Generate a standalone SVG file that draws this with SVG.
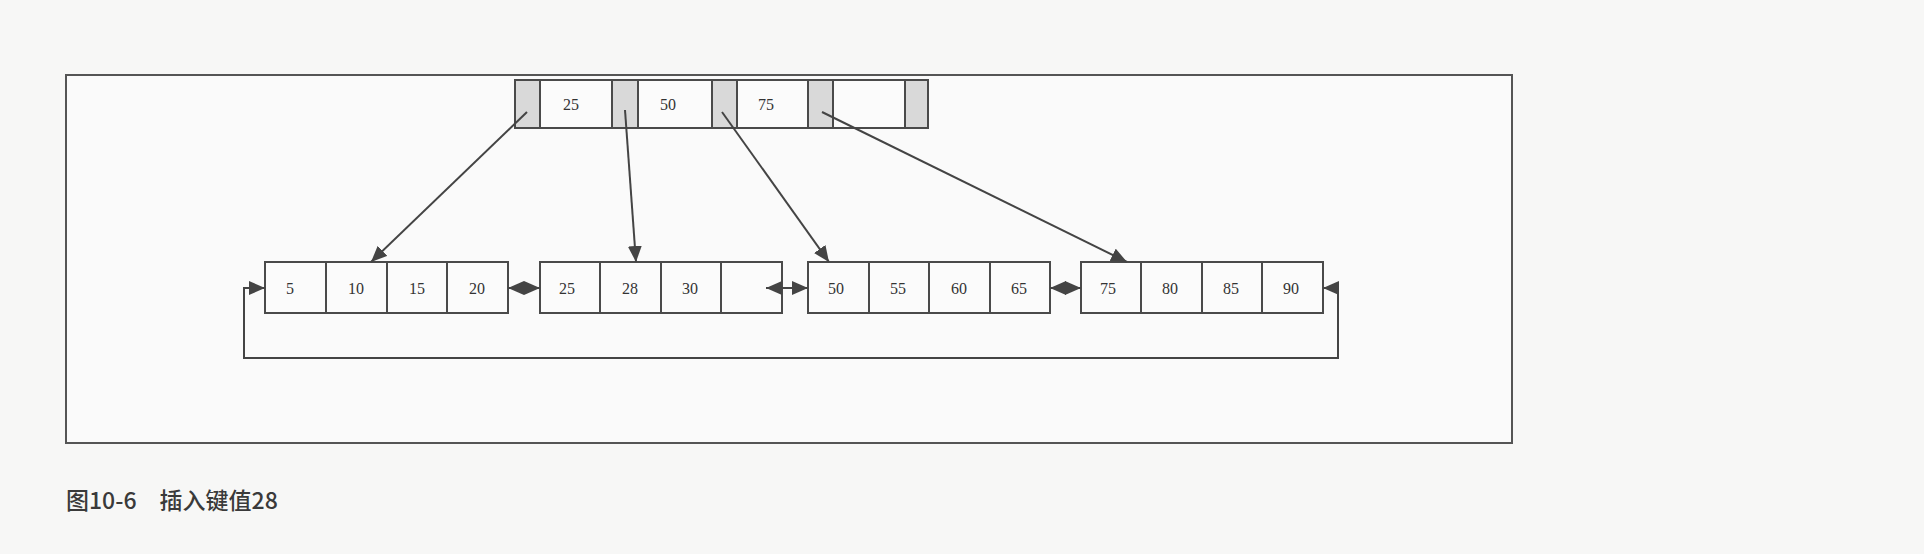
<svg xmlns="http://www.w3.org/2000/svg" width="1924" height="554" viewBox="0 0 1924 554">
<style>
.cell{fill:#fbfbfb;stroke:#4a4a4a;stroke-width:2}
.ptr{fill:#d9d9d9;stroke:#4a4a4a;stroke-width:2}
.num{font-family:"Liberation Serif",serif;font-size:16px;fill:#333;text-anchor:middle}
.edge{stroke:#444;stroke-width:2;fill:none}
.cap{font-family:"Noto Sans CJK SC","Noto Sans",sans-serif;font-size:23px;font-weight:500;fill:#3a3a3a}
</style>
<defs>
<marker id="big" viewBox="0 0 16 14" refX="16" refY="7" markerWidth="16" markerHeight="14" markerUnits="userSpaceOnUse" orient="auto">
<path d="M0,0 L16,7 L0,14 z" fill="#444"/>
</marker>
<marker id="bigs" viewBox="0 0 16 14" refX="16" refY="7" markerWidth="16" markerHeight="14" markerUnits="userSpaceOnUse" orient="auto-start-reverse">
<path d="M0,0 L16,7 L0,14 z" fill="#444"/>
</marker>
</defs>
<rect x="0" y="0" width="1924" height="554" fill="#f7f7f6"/>
<rect id="frame" x="66" y="75" width="1446" height="368" fill="#fafafa" stroke="#555" stroke-width="2"/>

<g id="root">
<rect class="ptr" x="515" y="80" width="25" height="48"/>
<rect class="cell" x="540" y="80" width="72" height="48"/>
<rect class="ptr" x="612" y="80" width="26" height="48"/>
<rect class="cell" x="638" y="80" width="74" height="48"/>
<rect class="ptr" x="712" y="80" width="25" height="48"/>
<rect class="cell" x="737" y="80" width="71" height="48"/>
<rect class="ptr" x="808" y="80" width="25" height="48"/>
<rect class="cell" x="833" y="80" width="72" height="48"/>
<rect class="ptr" x="905" y="80" width="23" height="48"/>
<text class="num" x="571" y="110">25</text>
<text class="num" x="668" y="110">50</text>
<text class="num" x="766" y="110">75</text>
</g>

<g id="leaf1">
<rect class="cell" x="265" y="262" width="61" height="51"/>
<rect class="cell" x="326" y="262" width="61" height="51"/>
<rect class="cell" x="387" y="262" width="60" height="51"/>
<rect class="cell" x="447" y="262" width="61" height="51"/>
<text class="num" x="290" y="294">5</text>
<text class="num" x="356" y="294">10</text>
<text class="num" x="417" y="294">15</text>
<text class="num" x="477" y="294">20</text>
</g>
<g id="leaf2">
<rect class="cell" x="540" y="262" width="60" height="51"/>
<rect class="cell" x="600" y="262" width="61" height="51"/>
<rect class="cell" x="661" y="262" width="60" height="51"/>
<rect class="cell" x="721" y="262" width="61" height="51"/>
<text class="num" x="567" y="294">25</text>
<text class="num" x="630" y="294">28</text>
<text class="num" x="690" y="294">30</text>
</g>
<g id="leaf3">
<rect class="cell" x="808" y="262" width="61" height="51"/>
<rect class="cell" x="869" y="262" width="60" height="51"/>
<rect class="cell" x="929" y="262" width="61" height="51"/>
<rect class="cell" x="990" y="262" width="60" height="51"/>
<text class="num" x="836" y="294">50</text>
<text class="num" x="898" y="294">55</text>
<text class="num" x="959" y="294">60</text>
<text class="num" x="1019" y="294">65</text>
</g>
<g id="leaf4">
<rect class="cell" x="1081" y="262" width="60" height="51"/>
<rect class="cell" x="1141" y="262" width="61" height="51"/>
<rect class="cell" x="1202" y="262" width="60" height="51"/>
<rect class="cell" x="1262" y="262" width="61" height="51"/>
<text class="num" x="1108" y="294">75</text>
<text class="num" x="1170" y="294">80</text>
<text class="num" x="1231" y="294">85</text>
<text class="num" x="1291" y="294">90</text>
</g>

<g id="connectors">
<line class="edge" x1="527" y1="112" x2="371" y2="262" marker-end="url(#big)"/>
<line class="edge" x1="625" y1="110" x2="636" y2="262" marker-end="url(#big)"/>
<line class="edge" x1="722" y1="112" x2="829" y2="262" marker-end="url(#big)"/>
<line class="edge" x1="822" y1="112" x2="1127" y2="262" marker-end="url(#big)"/>
<line class="edge" x1="508" y1="288" x2="540" y2="288" marker-start="url(#bigs)" marker-end="url(#big)"/>
<line class="edge" x1="766" y1="288" x2="808" y2="288" marker-start="url(#bigs)" marker-end="url(#big)"/>
<line class="edge" x1="1050" y1="288" x2="1081" y2="288" marker-start="url(#bigs)" marker-end="url(#big)"/>
<path class="edge" d="M1323,288 H1338 V358 H244 V288 H265" marker-start="url(#bigs)" marker-end="url(#big)"/>
</g>

<text class="cap" x="66" y="509">图10-6　插入键值28</text>
</svg>
